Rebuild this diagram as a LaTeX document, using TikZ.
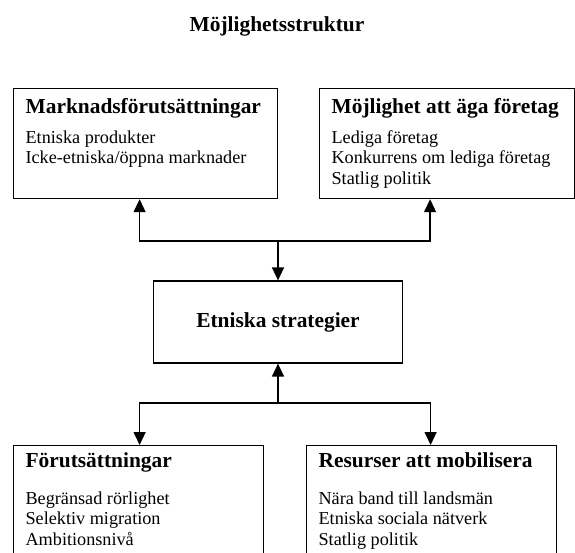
\documentclass[tikz,border=0pt]{standalone}
\usepackage{fontspec}
\setmainfont{Liberation Serif}
\usetikzlibrary{arrows.meta,positioning}
\newcommand{\headfont}{\fontsize{21.4}{24}\selectfont\bfseries}
\newcommand{\bodyfont}{\fontsize{18.2}{20.3}\selectfont}

\begin{document}
\begin{tikzpicture}[x=1pt,y=1pt,
  infobox/.style={rectangle, draw, line width=1.2pt, inner xsep=12pt, inner ysep=0pt,
                  anchor=north west, align=left},
  midbox/.style={rectangle, draw, line width=1.2pt, minimum width=249pt,
                 minimum height=82pt, font=\headfont},
  rel/.style={-{Triangle[length=13pt,width=12pt]}, line width=1.4pt}
]
  \useasboundingbox (0,0) rectangle (575,-552);
  \clip (0,0) rectangle (575,-552);

  \node[font=\headfont, anchor=base] (title) at (277,-31) {Möjlighetsstruktur};

  \node[infobox] (mkt) at (13,-88) {\parbox[t][110pt][t]{240pt}{\bodyfont
    \rule{0pt}{25pt}{\headfont Marknadsförutsättningar}\\[9.7pt]
    Etniska produkter\\
    Icke-etniska/öppna marknader}};
  \node[infobox] (own) at (319,-88) {\parbox[t][110pt][t]{231pt}{\bodyfont
    \rule{0pt}{25pt}{\headfont Möjlighet att äga företag}\\[9.7pt]
    Lediga företag\\
    Konkurrens om lediga företag\\
    Statlig politik}};

  \node[midbox] (strat) at (278,-322) {Etniska strategier};

  \node[infobox] (pre) at (13,-445) {\parbox[t][130pt][t]{226pt}{\bodyfont
    \rule{0pt}{22pt}{\headfont Förutsättningar}\\[16.7pt]
    Begränsad rörlighet\\
    Selektiv migration\\
    Ambitionsnivå}};
  \node[infobox] (res) at (306,-445) {\parbox[t][130pt][t]{226pt}{\bodyfont
    \rule{0pt}{22pt}{\headfont Resurser att mobilisera}\\[16.7pt]
    Nära band till landsmän\\
    Etniska sociala nätverk\\
    Statlig politik}};

  \coordinate (jtop) at (278,-241);
  \coordinate (jbot) at (278,-403);

  \draw[rel] (jtop) -- (strat.north);
  \draw[rel] (jtop) -| ([xshift=-6pt]mkt.south);
  \draw[rel] (jtop) -| ([xshift=-17pt]own.south);
  \draw[rel] (jbot) -- (strat.south);
  \draw[rel] (jbot) -| ([xshift=1pt]pre.north);
  \draw[rel] (jbot) -| ([xshift=-1pt]res.north);
\end{tikzpicture}
\end{document}
